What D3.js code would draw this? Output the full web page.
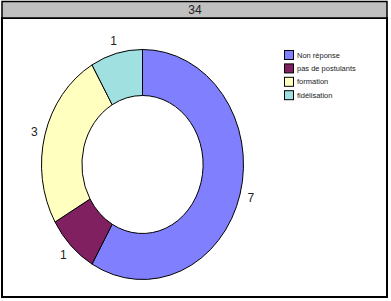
<!DOCTYPE html>
<html>
<head>
<meta charset="utf-8">
<script src="https://cdn.jsdelivr.net/npm/d3@7"></script>
<style>
body { margin: 0; background: #fff; }
text { font-family: Arial, "Liberation Sans", sans-serif; }
</style>
</head>
<body>
<svg></svg>
<script>
var title = "34";
var categories = ["Non réponse", "pas de postulants", "formation", "fidélisation"];
var values = [7, 1, 3, 1];
var colors = ["#8080ff", "#802060", "#ffffc0", "#a0e0e0"];

var width = 391;
var height = 301;
var svg = d3.select("svg")
    .attr("width", width)
    .attr("height", height);

// frame + title bar
svg.append("rect")
    .attr("x", 2).attr("y", 18)
    .attr("width", 385).attr("height", 279)
    .attr("fill", "#fff")
    .attr("stroke", "#000")
    .attr("stroke-width", 2);
svg.append("rect")
    .attr("x", 2).attr("y", 1.5)
    .attr("width", 385).attr("height", 16.5)
    .attr("fill", "#c0c0c0")
    .attr("stroke", "#000")
    .attr("stroke-width", 1.5);
svg.append("text")
    .attr("x", 195).attr("y", 14)
    .attr("text-anchor", "middle")
    .attr("font-size", 12)
    .attr("fill", "#222")
    .text(title);

var data = categories.map((c, i) => ({ name: c, value: values[i], color: colors[i] }));

var cx = 142.5, cy = 164.5, rx = 101, ry = 115;
var pie = d3.pie().sort(null).value(d => d.value);
var arc = d3.arc().innerRadius(rx * 0.6).outerRadius(rx);
var arcs = pie(data);

var donut = svg.append("g")
    .attr("transform", `translate(${cx},${cy}) scale(1,${ry / rx})`);
donut.selectAll("path")
    .data(arcs)
    .enter().append("path")
        .attr("d", arc)
        .attr("fill", d => d.data.color)
        .attr("stroke", "#000")
        .attr("stroke-width", 1)
        .attr("vector-effect", "non-scaling-stroke");

// value labels just outside each slice
var labelArc = d3.arc().innerRadius(rx * 1.11).outerRadius(rx * 1.11);
svg.append("g")
    .attr("transform", `translate(${cx},${cy})`)
    .selectAll("text")
    .data(arcs)
    .enter().append("text")
        .attr("x", d => labelArc.centroid(d)[0])
        .attr("y", d => labelArc.centroid(d)[1] * ry / rx)
        .attr("text-anchor", "middle")
        .attr("dy", "0.35em")
        .attr("font-size", 12)
        .attr("fill", "#222")
        .text(d => d.data.value);

// legend
var legend = svg.append("g")
    .attr("transform", "translate(284,50)");
var item = legend.selectAll("g")
    .data(data)
    .enter().append("g")
        .attr("transform", (d, i) => `translate(0,${i * 13.4})`);
item.append("rect")
    .attr("x", 0.5).attr("y", 0.5)
    .attr("width", 9).attr("height", 9)
    .attr("fill", d => d.color)
    .attr("stroke", "#000")
    .attr("stroke-width", 1);
item.append("text")
    .attr("x", 13).attr("y", 7.5)
    .attr("font-size", 7.5)
    .attr("fill", "#222")
    .text(d => d.name);
</script>
</body>
</html>
